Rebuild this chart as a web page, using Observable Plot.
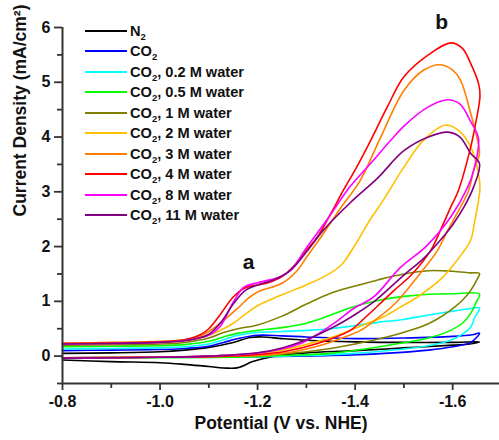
<!DOCTYPE html>
<html><head><meta charset="utf-8">
<script src="https://cdn.jsdelivr.net/npm/d3@7"></script>
<script src="https://cdn.jsdelivr.net/npm/@observablehq/plot@0.6"></script>
<style>
body{margin:0;background:#fff;}
#wrap{position:relative;width:499px;height:440px;font-family:"Liberation Sans",Arial,sans-serif;}
#legend{position:absolute;left:85px;top:0;}
.row{position:absolute;left:0;height:20px;display:flex;align-items:center;white-space:nowrap;font-weight:bold;font-size:14.6px;color:#111;}
.sw{width:42px;height:2px;margin-right:3px;}
.row sub{font-size:9.5px;vertical-align:-4px;line-height:0;}
</style></head><body><div id="wrap"><div id="legend"></div></div>
<script>
const potentialTicks = [-0.8, -1.0, -1.2, -1.4, -1.6];
const potentialMinor = [-0.9, -1.1, -1.3, -1.5];
const currentTicks = [0, 1, 2, 3, 4, 5, 6];
const currentMinor = [-0.5, 0.5, 1.5, 2.5, 3.5, 4.5, 5.5];

const seriesNames = ["N2", "CO2", "CO2, 0.2 M water", "CO2, 0.5 M water", "CO2, 1 M water",
  "CO2, 2 M water", "CO2, 3 M water", "CO2, 4 M water", "CO2, 8 M water", "CO2, 11 M water"];
const seriesColors = ["#000000", "#0000ff", "#00ffff", "#00ff00", "#808000",
  "#ffc000", "#ff8000", "#ff0000", "#ff00ff", "#800080"];

// [potential (V vs NHE), current density (mA/cm2)] in scan order: forward then return
const n2 = [[-0.8,0.05],[-0.9,0.06],[-1.0,0.08],[-1.05,0.11],[-1.1,0.16],[-1.15,0.25],[-1.185,0.34],[-1.21,0.35],[-1.25,0.32],[-1.3,0.29],[-1.4,0.26],[-1.5,0.25],[-1.6,0.25],[-1.655,0.26],
  [-1.635,0.22],[-1.6,0.2],[-1.5,0.15],[-1.4,0.1],[-1.3,0.06],[-1.25,0.02],[-1.22,-0.03],[-1.19,-0.1],[-1.16,-0.21],[-1.14,-0.22],[-1.1,-0.19],[-1.05,-0.15],[-1.0,-0.12],[-0.9,-0.1],[-0.8,-0.07]];
const co2 = [[-0.8,0.1],[-0.9,0.11],[-1.0,0.12],[-1.05,0.14],[-1.1,0.18],[-1.13,0.25],[-1.16,0.32],[-1.2,0.38],[-1.25,0.37],[-1.3,0.35],[-1.4,0.32],[-1.5,0.33],[-1.6,0.36],[-1.64,0.39],[-1.655,0.42],
  [-1.637,0.25],[-1.6,0.17],[-1.55,0.11],[-1.46,0.05],[-1.35,0.01],[-1.2,-0.01],[-1.0,-0.02],[-0.8,-0.03]];
const water02 = [[-0.8,0.13],[-0.9,0.14],[-1.0,0.15],[-1.05,0.17],[-1.1,0.22],[-1.13,0.3],[-1.16,0.38],[-1.2,0.43],[-1.25,0.45],[-1.3,0.47],[-1.35,0.5],[-1.4,0.56],[-1.45,0.62],[-1.5,0.67],[-1.55,0.75],[-1.6,0.82],[-1.63,0.86],[-1.655,0.88],
  [-1.645,0.7],[-1.637,0.53],[-1.62,0.4],[-1.596,0.29],[-1.55,0.19],[-1.49,0.12],[-1.4,0.05],[-1.3,0.01],[-1.2,-0.01],[-1.0,-0.02],[-0.8,-0.03]];
const water05 = [[-0.8,0.17],[-0.9,0.18],[-1.0,0.19],[-1.05,0.21],[-1.1,0.27],[-1.13,0.35],[-1.16,0.42],[-1.2,0.47],[-1.25,0.52],[-1.3,0.6],[-1.35,0.75],[-1.4,0.91],[-1.45,1.02],[-1.5,1.09],[-1.55,1.13],[-1.6,1.14],[-1.655,1.13],
  [-1.648,0.98],[-1.637,0.78],[-1.62,0.6],[-1.596,0.47],[-1.55,0.33],[-1.49,0.23],[-1.42,0.13],[-1.35,0.05],[-1.25,0.01],[-1.2,-0.01],[-1.0,-0.03],[-0.8,-0.04]];
const water1 = [[-0.8,0.2],[-0.9,0.21],[-1.0,0.22],[-1.05,0.25],[-1.1,0.33],[-1.13,0.43],[-1.16,0.5],[-1.2,0.57],[-1.25,0.73],[-1.3,0.95],[-1.35,1.15],[-1.4,1.28],[-1.45,1.4],[-1.5,1.5],[-1.55,1.56],[-1.6,1.55],[-1.637,1.52],[-1.655,1.51],
  [-1.65,1.4],[-1.637,1.2],[-1.62,1.02],[-1.596,0.84],[-1.565,0.66],[-1.534,0.53],[-1.49,0.41],[-1.452,0.32],[-1.4,0.22],[-1.35,0.14],[-1.3,0.08],[-1.25,0.04],[-1.2,0.01],[-1.0,-0.02],[-0.8,-0.03]];
const water2 = [[-0.8,0.22],[-0.9,0.23],[-1.0,0.25],[-1.05,0.28],[-1.1,0.38],[-1.13,0.5],[-1.15,0.6],[-1.18,0.8],[-1.2,0.92],[-1.25,1.12],[-1.3,1.3],[-1.34,1.47],[-1.37,1.65],[-1.4,2.03],[-1.43,2.48],[-1.46,2.88],[-1.5,3.45],[-1.54,3.94],[-1.586,4.22],[-1.615,4.1],[-1.637,3.82],[-1.65,3.45],[-1.656,3.1],
  [-1.653,2.85],[-1.645,2.45],[-1.637,2.12],[-1.62,1.88],[-1.6,1.65],[-1.575,1.4],[-1.528,1.08],[-1.49,0.88],[-1.459,0.72],[-1.42,0.58],[-1.39,0.47],[-1.35,0.34],[-1.32,0.26],[-1.25,0.11],[-1.2,0.05],[-1.1,0.0],[-1.0,-0.02],[-0.8,-0.03]];
const water3 = [[-0.8,0.24],[-0.9,0.25],[-1.0,0.27],[-1.05,0.3],[-1.08,0.36],[-1.1,0.45],[-1.13,0.65],[-1.16,0.88],[-1.18,1.05],[-1.2,1.17],[-1.25,1.33],[-1.28,1.55],[-1.3,1.8],[-1.335,2.24],[-1.37,2.7],[-1.41,3.2],[-1.45,3.95],[-1.5,4.85],[-1.54,5.22],[-1.575,5.32],[-1.6,5.22],[-1.616,5.04],[-1.637,4.43],[-1.651,3.94],[-1.655,3.7],
  [-1.643,3.39],[-1.633,3.03],[-1.616,2.72],[-1.59,2.3],[-1.569,1.93],[-1.528,1.45],[-1.483,0.97],[-1.44,0.65],[-1.411,0.47],[-1.37,0.32],[-1.33,0.2],[-1.253,0.05],[-1.2,0.01],[-1.1,-0.01],[-1.0,-0.02],[-0.8,-0.03]];
const water4 = [[-0.8,0.23],[-0.9,0.24],[-1.0,0.26],[-1.05,0.3],[-1.08,0.38],[-1.1,0.5],[-1.125,0.78],[-1.15,1.08],[-1.175,1.25],[-1.2,1.3],[-1.225,1.35],[-1.25,1.45],[-1.28,1.7],[-1.3,1.93],[-1.323,2.18],[-1.35,2.6],[-1.376,3.03],[-1.4,3.4],[-1.432,3.94],[-1.466,4.55],[-1.5,5.1],[-1.55,5.5],[-1.596,5.72],[-1.62,5.62],[-1.637,5.34],[-1.653,4.98],[-1.656,4.75],
  [-1.647,4.25],[-1.637,3.82],[-1.612,3.03],[-1.596,2.72],[-1.575,2.3],[-1.555,1.93],[-1.517,1.5],[-1.48,1.2],[-1.455,0.99],[-1.42,0.7],[-1.39,0.47],[-1.323,0.23],[-1.253,0.08],[-1.2,0.03],[-1.1,-0.01],[-1.0,-0.02],[-0.8,-0.03]];
const water8 = [[-0.8,0.22],[-0.9,0.23],[-1.0,0.25],[-1.05,0.28],[-1.08,0.33],[-1.104,0.4],[-1.124,0.55],[-1.151,1.0],[-1.172,1.26],[-1.2,1.34],[-1.247,1.45],[-1.268,1.57],[-1.302,2.0],[-1.343,2.5],[-1.39,3.1],[-1.432,3.52],[-1.473,3.94],[-1.5,4.2],[-1.55,4.55],[-1.59,4.68],[-1.615,4.6],[-1.637,4.28],[-1.653,3.97],
  [-1.643,3.39],[-1.631,3.09],[-1.596,2.54],[-1.545,2.0],[-1.493,1.62],[-1.438,1.08],[-1.397,0.87],[-1.36,0.62],[-1.32,0.38],[-1.288,0.23],[-1.22,0.08],[-1.1,0.0],[-1.0,-0.02],[-0.8,-0.04]];
const water11 = [[-0.8,0.22],[-0.9,0.23],[-1.0,0.25],[-1.05,0.28],[-1.08,0.33],[-1.1,0.4],[-1.125,0.62],[-1.15,0.95],[-1.175,1.2],[-1.2,1.3],[-1.235,1.4],[-1.268,1.57],[-1.3,1.9],[-1.335,2.3],[-1.39,2.8],[-1.446,3.25],[-1.5,3.75],[-1.55,4.0],[-1.59,4.09],[-1.615,4.0],[-1.637,3.7],[-1.655,3.52],
  [-1.643,3.09],[-1.623,2.72],[-1.6,2.4],[-1.575,2.12],[-1.54,1.78],[-1.5,1.48],[-1.438,0.99],[-1.4,0.76],[-1.36,0.55],[-1.3,0.3],[-1.25,0.15],[-1.2,0.06],[-1.1,0.0],[-1.0,-0.02],[-0.8,-0.04]];

const curves = [n2, co2, water02, water05, water1, water2, water3, water4, water8, water11];
const annotations = [{label: "a", potential: -1.1815, current: 1.72}, {label: "b", potential: -1.5775, current: 6.095}];

const rows = curves.flatMap((pts, i) => pts.map(([v, j], k) => ({series: seriesNames[i], v, j, k})));

const xDomain = [-0.8, -1.696];
const yDomain = [-0.5, 6];
const axisColor = "#333";

const chart = Plot.plot({
  width: 499, height: 440,
  marginLeft: 62, marginRight: 0, marginTop: 27, marginBottom: 57,
  x: {domain: xDomain},
  y: {domain: yDomain},
  color: {domain: seriesNames, range: seriesColors},
  style: {fontFamily: "'Liberation Sans', Arial, sans-serif", fontWeight: "bold", fontSize: "16px", color: "#111", background: "#fff", overflow: "visible"},
  marks: [
    Plot.line(rows, {x: "v", y: "j", z: "series", stroke: "series", strokeWidth: 1.6, curve: "catmull-rom"}),
    Plot.ruleX([xDomain[0]], {stroke: axisColor, strokeWidth: 2}),
    Plot.ruleY([yDomain[0]], {stroke: axisColor, strokeWidth: 2}),
    Plot.axisX(potentialTicks, {tickSize: 7, tickPadding: 5, tickFormat: d => d.toFixed(1), label: null, stroke: axisColor, strokeWidth: 1.8, fontSize: 16}),
    Plot.axisX(potentialMinor, {tickSize: 5, tickFormat: () => "", label: null, stroke: axisColor, strokeWidth: 1.8}),
    Plot.axisY(currentTicks, {tickSize: 8, tickPadding: 4, tickFormat: d => String(d), label: null, stroke: axisColor, strokeWidth: 1.8, fontSize: 16}),
    Plot.axisY(currentMinor, {tickSize: 5, tickFormat: () => "", label: null, stroke: axisColor, strokeWidth: 1.8}),
    Plot.text(annotations, {x: "potential", y: "current", text: "label", fontSize: 21, fill: "#111"}),
    Plot.text(["Potential (V vs. NHE)"], {frameAnchor: "bottom", dy: 45, fontSize: 17.5, fill: "#111"}),
    Plot.text(["Current Density (mA/cm²)"], {frameAnchor: "left", rotate: -90, dx: -42, dy: 11, fontSize: 17.5, fill: "#111"})
  ]
});
document.getElementById("wrap").prepend(chart);

const legend = document.getElementById("legend");
seriesNames.forEach((name, i) => {
  const row = document.createElement("div");
  row.className = "row";
  row.style.top = (21 + i * 20.45) + "px";
  const sw = document.createElement("span");
  sw.className = "sw";
  sw.style.background = seriesColors[i];
  const label = document.createElement("span");
  label.innerHTML = name.replace(/^(N|CO)2/, "$1<sub>2</sub>");
  row.append(sw, label);
  legend.append(row);
});
</script></body></html>
